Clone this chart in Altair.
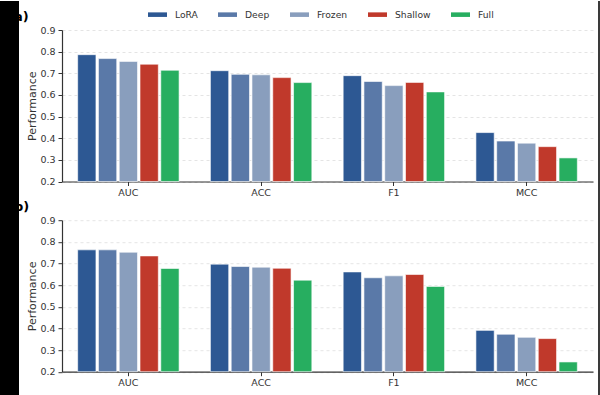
import altair as alt
import pandas as pd

# Metrics on the x axis and fine-tuning strategies compared within each group
metrics = ["AUC", "ACC", "F1", "MCC"]
methods = ["LoRA", "Deep", "Frozen", "Shallow", "Full"]
colors = ["#2d5893", "#5a79a8", "#899ebd", "#c0392b", "#27ae60"]

# Panel (a) scores, one list per strategy, ordered as metrics
a_lora = [0.786, 0.712, 0.689, 0.426]
a_deep = [0.768, 0.695, 0.662, 0.387]
a_frozen = [0.755, 0.693, 0.643, 0.377]
a_shallow = [0.742, 0.680, 0.658, 0.361]
a_full = [0.714, 0.657, 0.614, 0.309]

# Panel (b) scores
b_lora = [0.763, 0.697, 0.661, 0.391]
b_deep = [0.763, 0.686, 0.634, 0.373]
b_frozen = [0.752, 0.683, 0.643, 0.359]
b_shallow = [0.735, 0.678, 0.649, 0.353]
b_full = [0.677, 0.623, 0.594, 0.245]

y_ticks = [0.2, 0.3, 0.4, 0.5, 0.6, 0.7, 0.8, 0.9]

FONT = "DejaVu Sans"
TICK_FS = 9.5
LEGEND_FS = 9.2
W, H = 531, 151.5


def to_frame(series):
    rows = []
    for method, vals in zip(methods, series):
        for metric, v in zip(metrics, vals):
            rows.append({"metric": metric, "method": method, "value": v})
    return pd.DataFrame(rows)


df_a = to_frame([a_lora, a_deep, a_frozen, a_shallow, a_full])
df_b = to_frame([b_lora, b_deep, b_frozen, b_shallow, b_full])

legend_symbol = "M-1,-0.24L1,-0.24L1,0.24L-1,0.24Z"


def bars(df, show_legend):
    legend = (
        alt.Legend(
            title=None,
            orient="none",
            legendX=86,
            legendY=-25,
            direction="horizontal",
            symbolType=legend_symbol,
            symbolSize=361,
            symbolStrokeWidth=0,
            symbolOpacity=1,
            labelFont=FONT,
            labelFontSize=LEGEND_FS,
            labelColor="#333333",
            labelOffset=8,
            columnPadding=20,
        )
        if show_legend
        else None
    )
    return (
        alt.Chart(df)
        .mark_bar(stroke="white", strokeWidth=0.6)
        .encode(
            x=alt.X(
                "metric:N",
                sort=metrics,
                scale=alt.Scale(paddingInner=0.236, paddingOuter=0.118),
                axis=alt.Axis(
                    title=None,
                    labelAngle=0,
                    labelFont=FONT,
                    labelFontSize=TICK_FS,
                    labelColor="#333333",
                    labelPadding=2,
                    tickSize=4,
                    tickColor="#333333",
                    domainColor="#333333",
                    domainWidth=1.2,
                    grid=False,
                ),
            ),
            xOffset=alt.XOffset(
                "method:N",
                sort=methods,
                scale=alt.Scale(paddingInner=0.12, paddingOuter=0),
            ),
            y=alt.Y(
                "value:Q",
                scale=alt.Scale(domain=[0.2, 0.9], zero=False, nice=False),
                axis=alt.Axis(
                    title="Performance",
                    values=y_ticks,
                    format=".1f",
                    labelFont=FONT,
                    labelFontSize=TICK_FS,
                    labelColor="#333333",
                    labelPadding=3,
                    tickSize=4,
                    tickColor="#333333",
                    domainColor="#333333",
                    domainWidth=1.2,
                    titleFont=FONT,
                    titleFontSize=11,
                    titleFontWeight="normal",
                    titleColor="#333333",
                    titlePadding=2,
                    grid=True,
                    gridColor="#dddddd",
                    gridDash=[3, 3],
                    gridWidth=0.8,
                ),
            ),
            y2=alt.datum(0.2),
            color=alt.Color(
                "method:N",
                sort=methods,
                scale=alt.Scale(domain=methods, range=colors),
                legend=legend,
            ),
        )
        .properties(width=W, height=H)
    )


def panel_label(text):
    return (
        alt.Chart(pd.DataFrame({"label": [text]}))
        .mark_text(
            font=FONT, fontSize=13, fontWeight="bold", align="left",
            baseline="alphabetic", color="black",
        )
        .encode(x=alt.value(-54), y=alt.value(-9), text="label:N")
    )


one = pd.DataFrame({"k": [0]})
# Dark edge strip on the left and thin frame line on the right
left_strip = (
    alt.Chart(one)
    .mark_rect(color="black")
    .encode(x=alt.value(-62), x2=alt.value(-43), y=alt.value(-29), y2=alt.value(366))
)
right_line = (
    alt.Chart(one)
    .mark_rule(color="#3a3a3a", strokeWidth=2)
    .encode(x=alt.value(537), y=alt.value(-29), y2=alt.value(366))
)

top = alt.layer(bars(df_a, True), panel_label("(a)"), left_strip, right_line)
bottom = alt.layer(bars(df_b, False), panel_label("(b)"))

chart = (
    alt.vconcat(top, bottom, spacing=38.2, bounds="flush")
    .resolve_legend(color="independent")
    .properties(padding=0, background="white")
    .configure_view(stroke=None)
)

chart.save("out.html", embed_options={"renderer": "svg", "actions": False})
